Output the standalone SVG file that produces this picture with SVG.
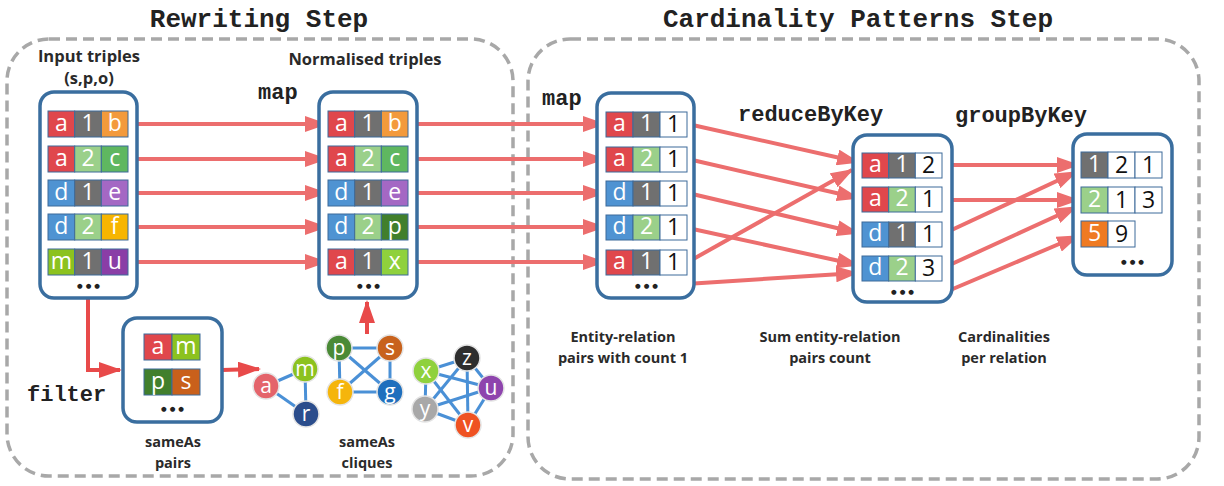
<svg xmlns="http://www.w3.org/2000/svg" width="1224" height="486" viewBox="0 0 1224 486">
  <style>
    .step { fill: none; stroke: #a8a8a8; stroke-width: 3.5; stroke-dasharray: 11 6; }
    .title { font-family: "Liberation Mono", "Courier New", monospace; font-weight: bold; font-size: 26px; fill: #222; text-anchor: middle; }
    .op { font-family: "Liberation Mono", "Courier New", monospace; font-weight: bold; font-size: 22px; fill: #222; }
    .cap { font-family: "Open Sans", "Noto Sans", sans-serif; font-weight: bold; font-size: 14.5px; fill: #2a2a2a; text-anchor: middle; }
    .capl { font-family: "Open Sans", "Noto Sans", sans-serif; font-weight: bold; font-size: 16.5px; fill: #2a2a2a; text-anchor: middle; }
    .box { fill: #fff; stroke: #3a6e9f; stroke-width: 3.5; }
    .cell { stroke: #3d6a9a; stroke-width: 1; }
    .ct { font-family: "Open Sans", "Noto Sans", sans-serif; font-size: 23px; fill: #fff; text-anchor: middle; }
    .ctk { font-family: "Open Sans", "Noto Sans", sans-serif; font-size: 23px; fill: #111; text-anchor: middle; }
    .dots { font-family: "DejaVu Sans", sans-serif; font-size: 6.5px; fill: #222; text-anchor: middle; letter-spacing: 3px; }
    .flow { stroke: #ec6e6e; stroke-width: 4; fill: none; marker-end: url(#ah); }
    .filt { stroke: #e84a4a; stroke-width: 4; fill: none; marker-end: url(#ahr); }
    .edge { stroke: #4a90d6; stroke-width: 3; }
    .node { stroke: #e4e4e4; stroke-width: 1.5; }
    .nt { font-family: "Open Sans", "Noto Sans", sans-serif; font-size: 21px; fill: #fff; text-anchor: middle; }
    .w { fill: #fff; }
    .r { fill: #e0474c; } .k { fill: #707070; } .o { fill: #f39a3c; } .lg { fill: #9bd08a; }
    .g { fill: #5fb760; } .b { fill: #4f93d2; } .pu { fill: #a468c4; } .y { fill: #f7b500; }
    .li { fill: #8cc21f; } .dp { fill: #8a3ea6; } .dg { fill: #417f2c; } .lx { fill: #8fd13d; }
    .br { fill: #c9601b; } .or { fill: #ef7a22; }
  </style>
  <defs>
    <marker id="ah" markerUnits="userSpaceOnUse" markerWidth="23" markerHeight="16" refX="21" refY="8" orient="auto">
      <path d="M0,0 L23,8 L0,16 z" fill="#ec6e6e"/>
    </marker>
    <marker id="ahr" markerUnits="userSpaceOnUse" markerWidth="23" markerHeight="16" refX="21" refY="8" orient="auto">
      <path d="M0,0 L23,8 L0,16 z" fill="#e84a4a"/>
    </marker>
  </defs>

  <rect width="1224" height="486" fill="#fff"/>

  <!-- the two processing stages -->
  <g id="rewriting-step">
    <rect class="step" x="7" y="39" width="506" height="437" rx="42"/>
    <text class="title" x="259" y="27">Rewriting Step</text>
  </g>
  <g id="cardinality-step">
    <rect class="step" x="528" y="39" width="671" height="440" rx="42"/>
    <text class="title" x="858" y="27">Cardinality Patterns Step</text>
  </g>

  <!-- operation labels -->
  <g id="ops">
    <text class="op" x="258" y="99">map</text>
    <text class="op" x="542" y="105">map</text>
    <text class="op" x="738" y="121">reduceByKey</text>
    <text class="op" x="955" y="122">groupByKey</text>
    <text class="op" x="27" y="401">filter</text>
  </g>

  <!-- connectors -->
  <g id="connectors">
    <line class="flow" x1="128" y1="124" x2="326" y2="124"/>
    <line class="flow" x1="128" y1="159" x2="326" y2="159"/>
    <line class="flow" x1="128" y1="193" x2="326" y2="193"/>
    <line class="flow" x1="128" y1="227" x2="326" y2="227"/>
    <line class="flow" x1="128" y1="262" x2="326" y2="262"/>

    <line class="flow" x1="408" y1="124" x2="604" y2="124"/>
    <line class="flow" x1="408" y1="159" x2="604" y2="159"/>
    <line class="flow" x1="408" y1="193" x2="604" y2="193"/>
    <line class="flow" x1="408" y1="227" x2="604" y2="227"/>
    <line class="flow" x1="408" y1="262" x2="604" y2="262"/>

    <line class="flow" x1="688" y1="124" x2="858" y2="162"/>
    <line class="flow" x1="688" y1="159" x2="858" y2="198"/>
    <line class="flow" x1="688" y1="193" x2="858" y2="233"/>
    <line class="flow" x1="688" y1="228" x2="858" y2="265"/>
    <line class="flow" x1="688" y1="262" x2="852" y2="170"/>
    <line class="flow" x1="686" y1="284" x2="857" y2="273"/>

    <line class="flow" x1="943" y1="165" x2="1078" y2="165"/>
    <line class="flow" x1="943" y1="200" x2="1078" y2="200"/>
    <line class="flow" x1="943" y1="234" x2="1076" y2="172"/>
    <line class="flow" x1="943" y1="268" x2="1076" y2="207"/>
    <line class="flow" x1="948" y1="291" x2="1078" y2="236"/>

    <polyline class="filt" points="88,298 88,370 120,370"/>
    <line class="filt" x1="222" y1="370" x2="259" y2="369"/>
    <line class="filt" x1="367" y1="334" x2="367" y2="302"/>
  </g>

  <!-- input triples (s,p,o) -->
  <g id="input-triples">
    <text class="capl" x="89" y="62">Input triples</text>
    <text class="capl" x="89" y="84">(s,p,o)</text>
    <rect class="box" x="40" y="92" width="97" height="206" rx="14"/>
    <rect class="cell r" x="48" y="111" width="26.7" height="26"/><rect class="cell k" x="74.7" y="111" width="26.7" height="26"/><rect class="cell o" x="101.3" y="111" width="26.7" height="26"/>
    <text class="ct" x="61.3" y="131">a</text><text class="ct" x="88" y="131">1</text><text class="ct" x="114.7" y="131">b</text>
    <rect class="cell r" x="48" y="146" width="26.7" height="26"/><rect class="cell lg" x="74.7" y="146" width="26.7" height="26"/><rect class="cell g" x="101.3" y="146" width="26.7" height="26"/>
    <text class="ct" x="61.3" y="166">a</text><text class="ct" x="88" y="166">2</text><text class="ct" x="114.7" y="166">c</text>
    <rect class="cell b" x="48" y="180" width="26.7" height="26"/><rect class="cell k" x="74.7" y="180" width="26.7" height="26"/><rect class="cell pu" x="101.3" y="180" width="26.7" height="26"/>
    <text class="ct" x="61.3" y="200">d</text><text class="ct" x="88" y="200">1</text><text class="ct" x="114.7" y="200">e</text>
    <rect class="cell b" x="48" y="214" width="26.7" height="26"/><rect class="cell lg" x="74.7" y="214" width="26.7" height="26"/><rect class="cell y" x="101.3" y="214" width="26.7" height="26"/>
    <text class="ct" x="61.3" y="234">d</text><text class="ct" x="88" y="234">2</text><text class="ct" x="114.7" y="234">f</text>
    <rect class="cell li" x="48" y="249" width="26.7" height="26"/><rect class="cell k" x="74.7" y="249" width="26.7" height="26"/><rect class="cell dp" x="101.3" y="249" width="26.7" height="26"/>
    <text class="ct" x="61.3" y="269">m</text><text class="ct" x="88" y="269">1</text><text class="ct" x="114.7" y="269">u</text>
    <text class="dots" x="90" y="288">●●●</text>
  </g>

  <!-- normalised triples -->
  <g id="normalised-triples">
    <text class="capl" x="365" y="65">Normalised triples</text>
    <rect class="box" x="319" y="92" width="98" height="206" rx="14"/>
    <rect class="cell r" x="328" y="111" width="26.7" height="26"/><rect class="cell k" x="354.7" y="111" width="26.7" height="26"/><rect class="cell o" x="381.3" y="111" width="26.7" height="26"/>
    <text class="ct" x="341.3" y="131">a</text><text class="ct" x="368" y="131">1</text><text class="ct" x="394.7" y="131">b</text>
    <rect class="cell r" x="328" y="146" width="26.7" height="26"/><rect class="cell lg" x="354.7" y="146" width="26.7" height="26"/><rect class="cell g" x="381.3" y="146" width="26.7" height="26"/>
    <text class="ct" x="341.3" y="166">a</text><text class="ct" x="368" y="166">2</text><text class="ct" x="394.7" y="166">c</text>
    <rect class="cell b" x="328" y="180" width="26.7" height="26"/><rect class="cell k" x="354.7" y="180" width="26.7" height="26"/><rect class="cell pu" x="381.3" y="180" width="26.7" height="26"/>
    <text class="ct" x="341.3" y="200">d</text><text class="ct" x="368" y="200">1</text><text class="ct" x="394.7" y="200">e</text>
    <rect class="cell b" x="328" y="214" width="26.7" height="26"/><rect class="cell lg" x="354.7" y="214" width="26.7" height="26"/><rect class="cell dg" x="381.3" y="214" width="26.7" height="26"/>
    <text class="ct" x="341.3" y="234">d</text><text class="ct" x="368" y="234">2</text><text class="ct" x="394.7" y="234">p</text>
    <rect class="cell r" x="328" y="249" width="26.7" height="26"/><rect class="cell k" x="354.7" y="249" width="26.7" height="26"/><rect class="cell lx" x="381.3" y="249" width="26.7" height="26"/>
    <text class="ct" x="341.3" y="269">a</text><text class="ct" x="368" y="269">1</text><text class="ct" x="394.7" y="269">x</text>
    <text class="dots" x="370" y="288">●●●</text>
  </g>

  <!-- entity-relation pairs with count 1 -->
  <g id="pairs-count-one">
    <rect class="box" x="597" y="93" width="97" height="205" rx="14"/>
    <rect class="cell r" x="606" y="112" width="27" height="25"/><rect class="cell k" x="633" y="112" width="27" height="25"/><rect class="cell w" x="660" y="112" width="27" height="25"/>
    <text class="ct" x="619.5" y="131">a</text><text class="ct" x="646.5" y="131">1</text><text class="ctk" x="673.5" y="132">1</text>
    <rect class="cell r" x="606" y="147" width="27" height="25"/><rect class="cell lg" x="633" y="147" width="27" height="25"/><rect class="cell w" x="660" y="147" width="27" height="25"/>
    <text class="ct" x="619.5" y="166">a</text><text class="ct" x="646.5" y="166">2</text><text class="ctk" x="673.5" y="167">1</text>
    <rect class="cell b" x="606" y="181" width="27" height="25"/><rect class="cell k" x="633" y="181" width="27" height="25"/><rect class="cell w" x="660" y="181" width="27" height="25"/>
    <text class="ct" x="619.5" y="200">d</text><text class="ct" x="646.5" y="200">1</text><text class="ctk" x="673.5" y="201">1</text>
    <rect class="cell b" x="606" y="215" width="27" height="25"/><rect class="cell lg" x="633" y="215" width="27" height="25"/><rect class="cell w" x="660" y="215" width="27" height="25"/>
    <text class="ct" x="619.5" y="234">d</text><text class="ct" x="646.5" y="234">2</text><text class="ctk" x="673.5" y="235">1</text>
    <rect class="cell r" x="606" y="250" width="27" height="25"/><rect class="cell k" x="633" y="250" width="27" height="25"/><rect class="cell w" x="660" y="250" width="27" height="25"/>
    <text class="ct" x="619.5" y="269">a</text><text class="ct" x="646.5" y="269">1</text><text class="ctk" x="673.5" y="270">1</text>
    <text class="dots" x="648" y="288">●●●</text>
    <text class="cap" x="623" y="342">Entity-relation</text>
    <text class="cap" x="623" y="363">pairs with count 1</text>
  </g>

  <!-- summed entity-relation pair counts -->
  <g id="pairs-summed">
    <rect class="box" x="853" y="135" width="99" height="167" rx="14"/>
    <rect class="cell r" x="862" y="153" width="26.7" height="25"/><rect class="cell k" x="888.7" y="153" width="26.7" height="25"/><rect class="cell w" x="915.3" y="153" width="26.7" height="25"/>
    <text class="ct" x="875.3" y="172">a</text><text class="ct" x="902" y="172">1</text><text class="ctk" x="928.7" y="173">2</text>
    <rect class="cell r" x="862" y="187" width="26.7" height="25"/><rect class="cell lg" x="888.7" y="187" width="26.7" height="25"/><rect class="cell w" x="915.3" y="187" width="26.7" height="25"/>
    <text class="ct" x="875.3" y="206">a</text><text class="ct" x="902" y="206">2</text><text class="ctk" x="928.7" y="207">1</text>
    <rect class="cell b" x="862" y="222" width="26.7" height="25"/><rect class="cell k" x="888.7" y="222" width="26.7" height="25"/><rect class="cell w" x="915.3" y="222" width="26.7" height="25"/>
    <text class="ct" x="875.3" y="241">d</text><text class="ct" x="902" y="241">1</text><text class="ctk" x="928.7" y="242">1</text>
    <rect class="cell b" x="862" y="256" width="26.7" height="25"/><rect class="cell lg" x="888.7" y="256" width="26.7" height="25"/><rect class="cell w" x="915.3" y="256" width="26.7" height="25"/>
    <text class="ct" x="875.3" y="275">d</text><text class="ct" x="902" y="275">2</text><text class="ctk" x="928.7" y="276">3</text>
    <text class="dots" x="904" y="294">●●●</text>
    <text class="cap" x="830" y="342">Sum entity-relation</text>
    <text class="cap" x="830" y="363">pairs count</text>
  </g>

  <!-- cardinalities per relation -->
  <g id="cardinalities">
    <rect class="box" x="1073" y="134" width="99" height="141" rx="14"/>
    <rect class="cell k" x="1081" y="152" width="27" height="26"/><rect class="cell w" x="1108" y="152" width="27" height="26"/><rect class="cell w" x="1135" y="152" width="27" height="26"/>
    <text class="ct" x="1094.5" y="172">1</text><text class="ctk" x="1121.5" y="173">2</text><text class="ctk" x="1148.5" y="173">1</text>
    <rect class="cell lg" x="1081" y="187" width="27" height="26"/><rect class="cell w" x="1108" y="187" width="27" height="26"/><rect class="cell w" x="1135" y="187" width="27" height="26"/>
    <text class="ct" x="1094.5" y="207">2</text><text class="ctk" x="1121.5" y="208">1</text><text class="ctk" x="1148.5" y="208">3</text>
    <rect class="cell or" x="1081" y="221" width="27" height="26"/><rect class="cell w" x="1108" y="221" width="27" height="26"/>
    <text class="ct" x="1094.5" y="241">5</text><text class="ctk" x="1121.5" y="242">9</text>
    <text class="dots" x="1134" y="264">●●●</text>
    <text class="cap" x="1004" y="342">Cardinalities</text>
    <text class="cap" x="1004" y="363">per relation</text>
  </g>

  <!-- sameAs pairs -->
  <g id="sameas-pairs">
    <rect class="box" x="123" y="318" width="99" height="104" rx="14"/>
    <rect class="cell r" x="144" y="334" width="28" height="26"/><rect class="cell li" x="172" y="334" width="28" height="26"/>
    <text class="ct" x="158" y="354">a</text><text class="ct" x="186" y="354">m</text>
    <rect class="cell dg" x="144" y="369" width="28" height="26"/><rect class="cell br" x="172" y="369" width="28" height="26"/>
    <text class="ct" x="158" y="389">p</text><text class="ct" x="186" y="389">s</text>
    <text class="dots" x="174" y="411">●●●</text>
    <text class="cap" x="173" y="447">sameAs</text>
    <text class="cap" x="173" y="468">pairs</text>
  </g>

  <!-- sameAs cliques -->
  <g id="sameas-cliques">
    <line class="edge" x1="266" y1="386" x2="305" y2="369"/>
    <line class="edge" x1="266" y1="386" x2="306" y2="414"/>
    <line class="edge" x1="305" y1="369" x2="306" y2="414"/>

    <line class="edge" x1="339" y1="348" x2="390" y2="348"/>
    <line class="edge" x1="339" y1="348" x2="340" y2="392"/>
    <line class="edge" x1="390" y1="348" x2="390" y2="392"/>
    <line class="edge" x1="340" y1="392" x2="390" y2="392"/>
    <line class="edge" x1="339" y1="348" x2="390" y2="392"/>
    <line class="edge" x1="390" y1="348" x2="340" y2="392"/>

    <line class="edge" x1="426" y1="371" x2="467" y2="358"/>
    <line class="edge" x1="426" y1="371" x2="491" y2="388"/>
    <line class="edge" x1="426" y1="371" x2="425" y2="409"/>
    <line class="edge" x1="426" y1="371" x2="468" y2="425"/>
    <line class="edge" x1="467" y1="358" x2="491" y2="388"/>
    <line class="edge" x1="467" y1="358" x2="425" y2="409"/>
    <line class="edge" x1="467" y1="358" x2="468" y2="425"/>
    <line class="edge" x1="491" y1="388" x2="425" y2="409"/>
    <line class="edge" x1="491" y1="388" x2="468" y2="425"/>
    <line class="edge" x1="425" y1="409" x2="468" y2="425"/>

    <circle class="node" cx="266" cy="386" r="13" fill="#e4646b"/><text class="nt" x="266" y="393">a</text>
    <circle class="node" cx="305" cy="369" r="13" fill="#8cc21f"/><text class="nt" x="305" y="376">m</text>
    <circle class="node" cx="306" cy="414" r="13" fill="#2b4d8c"/><text class="nt" x="306" y="421">r</text>

    <circle class="node" cx="339" cy="348" r="13" fill="#4a8a36"/><text class="nt" x="339" y="355">p</text>
    <circle class="node" cx="390" cy="348" r="13" fill="#c8621c"/><text class="nt" x="390" y="355">s</text>
    <circle class="node" cx="340" cy="392" r="13" fill="#f5b50c"/><text class="nt" x="340" y="399">f</text>
    <circle class="node" cx="390" cy="392" r="13" fill="#1f6fbd"/><text class="nt" x="390" y="399">g</text>

    <circle class="node" cx="426" cy="371" r="13" fill="#8fd13d"/><text class="nt" x="426" y="378">x</text>
    <circle class="node" cx="467" cy="358" r="13" fill="#2e2e2e"/><text class="nt" x="467" y="365">z</text>
    <circle class="node" cx="491" cy="388" r="13" fill="#8e44ad"/><text class="nt" x="491" y="395">u</text>
    <circle class="node" cx="425" cy="409" r="13" fill="#a8a8a8"/><text class="nt" x="425" y="416">y</text>
    <circle class="node" cx="468" cy="425" r="13" fill="#ef5222"/><text class="nt" x="468" y="432">v</text>

    <text class="cap" x="367" y="447">sameAs</text>
    <text class="cap" x="367" y="468">cliques</text>
  </g>
</svg>
